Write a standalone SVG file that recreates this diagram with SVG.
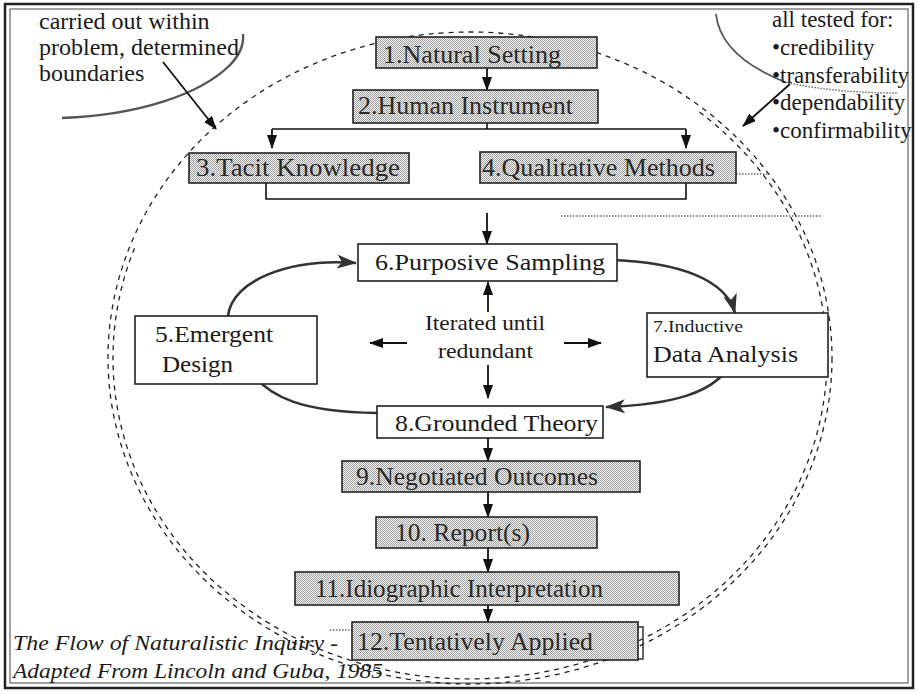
<svg xmlns="http://www.w3.org/2000/svg" width="918" height="694" viewBox="0 0 918 694">
  <defs>
    <!-- fine halftone fill used by the shaded step boxes -->
    <pattern id="stipple" width="2" height="2" patternUnits="userSpaceOnUse">
      <rect width="2" height="2" fill="#ececec"/>
      <rect width="1" height="1" fill="#a8a8a8"/>
      <rect x="1" y="1" width="1" height="1" fill="#a8a8a8"/>
    </pattern>
    <marker id="head" markerUnits="userSpaceOnUse" markerWidth="14" markerHeight="10" refX="13" refY="5" orient="auto">
      <path d="M0,0 L14,5 L0,10 Z" fill="#111"/>
    </marker>
    <marker id="curvehead" markerUnits="userSpaceOnUse" markerWidth="20" markerHeight="14" refX="19" refY="7" orient="auto">
      <path d="M0,0 L20,7 L0,14 L5,7 Z" fill="#333"/>
    </marker>
  </defs>
  <style>
    .shaded{fill:url(#stipple);stroke:#222;stroke-width:1.6}
    .plain{fill:#fff;stroke:#222;stroke-width:1.6}
    .lbl{font-family:'Liberation Serif','Times New Roman','DejaVu Serif',serif;fill:#1a1a1a}
    .box{font-size:25px;fill:#2a2a2a}
    .note{font-size:24px}
    .crit{font-size:23px}
    .cap{font-size:20px;font-style:italic}
    .line{fill:none;stroke:#111;stroke-width:1.6}
    .arrow{fill:none;stroke:#111;stroke-width:1.8;marker-end:url(#head)}
    .curve{fill:none;stroke:#333;stroke-width:2.6;marker-end:url(#curvehead)}
    .ring{fill:none;stroke:#222;stroke-width:1.3;stroke-dasharray:5 5}
    .dots{fill:none;stroke:#666;stroke-width:1.4;stroke-dasharray:1.5 1.5}
  </style>

  <rect width="918" height="694" fill="#fff"/>

  <!-- double frame -->
  <g id="frame">
    <rect x="5" y="4" width="908" height="684" fill="none" stroke="#222" stroke-width="2.5"/>
    <rect x="10" y="9" width="898" height="674" fill="none" stroke="#444" stroke-width="1"/>
  </g>

  <!-- dashed boundary ring -->
  <g id="boundary">
    <ellipse class="ring" cx="470" cy="358" rx="362" ry="326"/>
    <path class="ring" d="M699.5,112.1 A357,321 0 1 1 134.5,248.2"/>
  </g>

  <!-- side annotations -->
  <g id="note-boundaries">
    <path d="M62,118 C140,115 200,94 229,66 C241,54 244,44 243,34" fill="none" stroke="#555" stroke-width="2.4"/>
    <text class="lbl note" x="39" y="29">carried out within</text>
    <text class="lbl note" x="39" y="55">problem, determined</text>
    <text class="lbl note" x="39" y="81">boundaries</text>
    <line class="arrow" x1="163" y1="62" x2="216" y2="129"/>
  </g>
  <g id="note-criteria">
    <path d="M716,14 C719,44 745,66 785,82" fill="none" stroke="#555" stroke-width="1.8"/>
    <path class="dots" d="M785,82 C820,90 860,93 897,93"/>
    <text class="lbl crit" x="772" y="27">all tested for:</text>
    <text class="lbl crit" x="772" y="55">•credibility</text>
    <text class="lbl crit" x="772" y="83">•transferability</text>
    <text class="lbl crit" x="772" y="110">•dependability</text>
    <text class="lbl crit" x="772" y="138">•confirmability</text>
    <line class="arrow" x1="790" y1="84" x2="743" y2="126"/>
  </g>

  <!-- faint dotted guides -->
  <g id="guides">
    <line class="dots" x1="561" y1="216" x2="821" y2="216"/>
    <line class="dots" x1="736" y1="174" x2="768" y2="174"/>
    <line class="dots" x1="330" y1="630" x2="352" y2="630"/>
  </g>

  <!-- connectors -->
  <g id="connectors">
    <line class="arrow" x1="487" y1="68" x2="487" y2="90"/>
    <polyline class="line" points="487,123 487,129"/>
    <polyline class="line" points="272,129 686,129"/>
    <line class="arrow" x1="272" y1="129" x2="272" y2="148"/>
    <line class="arrow" x1="686" y1="129" x2="686" y2="148"/>
    <polyline class="line" points="266,183 266,199 686,199 686,183"/>
    <line class="arrow" x1="487" y1="213" x2="487" y2="244"/>

    <line class="arrow" x1="488" y1="312" x2="488" y2="282"/>
    <line class="arrow" x1="488" y1="365" x2="488" y2="398"/>
    <line class="arrow" x1="407" y1="343" x2="370" y2="343"/>
    <line class="arrow" x1="564" y1="343" x2="601" y2="343"/>

    <path class="curve" d="M228,316 C232,280 290,258 356,263"/>
    <path class="curve" d="M610,260 C680,262 726,280 735,313"/>
    <path class="curve" d="M733,358 C720,395 665,405 606,407"/>
    <path class="curve" d="M377,413 C310,412 265,402 241,358"/>

    <line class="arrow" x1="488" y1="438" x2="488" y2="461"/>
    <line class="arrow" x1="488" y1="492" x2="488" y2="517"/>
    <line class="arrow" x1="488" y1="548" x2="488" y2="572"/>
    <line class="arrow" x1="488" y1="605" x2="488" y2="622"/>
  </g>

  <!-- steps -->
  <g id="n1">
    <rect class="shaded" x="376" y="37" width="221" height="31"/>
    <text class="lbl box" x="383" y="63" textLength="178" lengthAdjust="spacingAndGlyphs">1.Natural Setting</text>
  </g>
  <g id="n2">
    <rect class="shaded" x="353" y="90" width="245" height="33"/>
    <text class="lbl box" x="358" y="114" textLength="215" lengthAdjust="spacingAndGlyphs">2.Human Instrument</text>
  </g>
  <g id="n3">
    <rect class="shaded" x="189" y="153" width="220" height="30"/>
    <text class="lbl box" x="196" y="176" textLength="204" lengthAdjust="spacingAndGlyphs">3.Tacit Knowledge</text>
  </g>
  <g id="n4">
    <rect class="shaded" x="480" y="152" width="256" height="31"/>
    <text class="lbl box" x="482" y="176" textLength="233" lengthAdjust="spacingAndGlyphs">4.Qualitative Methods</text>
  </g>
  <g id="n6">
    <rect class="plain" x="358" y="244" width="259" height="37"/>
    <text class="lbl" font-size="24" x="375" y="270" textLength="230" lengthAdjust="spacingAndGlyphs">6.Purposive Sampling</text>
  </g>
  <g id="n5">
    <rect class="plain" x="135" y="316" width="182" height="68"/>
    <text class="lbl" font-size="24" x="155" y="342" textLength="118" lengthAdjust="spacingAndGlyphs">5.Emergent</text>
    <text class="lbl" font-size="24" x="162" y="372" textLength="71" lengthAdjust="spacingAndGlyphs">Design</text>
  </g>
  <g id="n7">
    <rect class="plain" x="647" y="313" width="181" height="64"/>
    <text class="lbl" font-size="17" x="653" y="332" textLength="90" lengthAdjust="spacingAndGlyphs">7.Inductive</text>
    <text class="lbl" font-size="24" x="653" y="362" textLength="145" lengthAdjust="spacingAndGlyphs">Data Analysis</text>
  </g>
  <g id="iterate">
    <text class="lbl" font-size="22" x="425" y="330" textLength="120" lengthAdjust="spacingAndGlyphs">Iterated until</text>
    <text class="lbl" font-size="22" x="438" y="358" textLength="95" lengthAdjust="spacingAndGlyphs">redundant</text>
  </g>
  <g id="n8">
    <rect class="plain" x="377" y="406" width="226" height="32"/>
    <text class="lbl" font-size="24" x="395" y="431" textLength="203" lengthAdjust="spacingAndGlyphs">8.Grounded Theory</text>
  </g>
  <g id="n9">
    <rect class="shaded" x="342" y="461" width="298" height="31"/>
    <text class="lbl box" x="356" y="485" textLength="242" lengthAdjust="spacingAndGlyphs">9.Negotiated Outcomes</text>
  </g>
  <g id="n10">
    <rect class="shaded" x="376" y="517" width="221" height="31"/>
    <text class="lbl box" x="395" y="541" textLength="135" lengthAdjust="spacingAndGlyphs">10. Report(s)</text>
  </g>
  <g id="n11">
    <rect class="shaded" x="295" y="572" width="384" height="33"/>
    <text class="lbl box" x="315" y="597" textLength="288" lengthAdjust="spacingAndGlyphs">11.Idiographic Interpretation</text>
  </g>
  <g id="n12">
    <polyline points="638,627 643,627 643,659 638,659" fill="none" stroke="#333" stroke-width="1.5"/>
    <rect class="shaded" x="352" y="622" width="286" height="38" stroke-width="2.2"/>
    <text class="lbl box" x="357" y="650" textLength="236" lengthAdjust="spacingAndGlyphs">12.Tentatively Applied</text>
  </g>

  <!-- caption -->
  <g id="caption">
    <text class="lbl cap" x="13" y="650" textLength="325" lengthAdjust="spacingAndGlyphs">The Flow of Naturalistic Inquiry -</text>
    <text class="lbl cap" x="13" y="678" textLength="370" lengthAdjust="spacingAndGlyphs">Adapted From Lincoln and Guba, 1985</text>
  </g>
</svg>
